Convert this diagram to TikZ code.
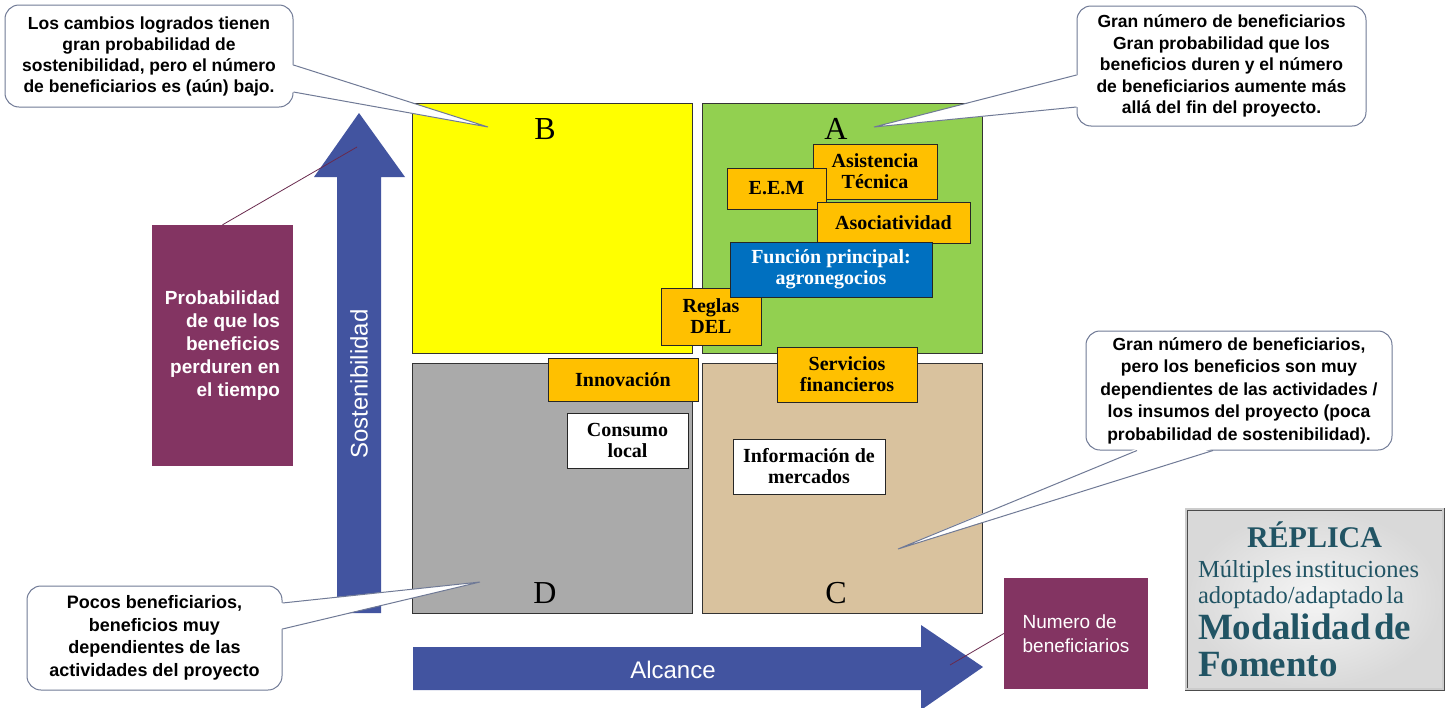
\documentclass[tikz,border=0pt]{standalone}
\usepackage{fontspec}
\setmainfont{Liberation Serif}
\setsansfont{Liberation Sans}
\usetikzlibrary{calc}
\definecolor{amarillo}{RGB}{255,255,0}
\definecolor{verde}{RGB}{146,208,80}
\definecolor{gris}{RGB}{170,170,170}
\definecolor{beige}{RGB}{217,194,158}
\definecolor{naranja}{RGB}{255,192,0}
\definecolor{azul}{RGB}{0,112,192}
\definecolor{flecha}{RGB}{66,84,160}
\definecolor{morado}{RGB}{131,52,98}
\definecolor{borde}{RGB}{112,122,150}
\definecolor{petroleo}{RGB}{33,84,100}
\begin{document}
\begin{tikzpicture}[x=1pt,y=-1pt,
	quad/.style={draw=black!80, line width=0.8pt, minimum width=280pt, minimum height=250pt, inner sep=0pt},
	letra/.style={inner sep=0pt, font=\fontsize{32}{32}\selectfont},
	caja/.style={draw=black!85, line width=0.8pt, fill=naranja, inner sep=0pt, align=center, font=\bfseries\fontsize{20}{21}\selectfont},
	blanca/.style={caja, fill=white},
	globo/.style={draw=borde, line width=1pt, fill=white, rounded corners=14pt, inner sep=0pt, align=center, font=\sffamily\bfseries\fontsize{17.5}{21}\selectfont},
	pico/.style={draw=borde, line width=1pt},
	morada/.style={fill=morado, text=white, inner sep=0pt},
	hilo/.style={draw=morado!80!black, line width=0.8pt}]
	\useasboundingbox (0,0) rectangle (1450,707);
	\clip (0,0) rectangle (1450,707);
	\fill[white] (0,0) rectangle (1450,707);

	% cuadrantes
	\node[quad, fill=amarillo] (B) at (552,228) {};
	\node[quad, fill=verde] (A) at (842,228) {};
	\node[quad, fill=gris] (D) at (552,488) {};
	\node[quad, fill=beige] (C) at (842,488) {};
	\node[letra] (lB) at (545,129) {B};
	\node[letra] (lA) at (836,129) {A};
	\node[letra] (lD) at (545,593) {D};
	\node[letra] (lC) at (836,593) {C};

	% flechas
	\fill[flecha] (337,613) -- (337,177) -- (314,177) -- (359,113) -- (405,177) -- (381,177) -- (381,613) -- cycle;
	\node[text=white, rotate=90, font=\sffamily\fontsize{24}{24}\selectfont] (sost) at (359,384) {Sostenibilidad};
	\fill[flecha] (413,647) -- (921,647) -- (921,625) -- (983,667) -- (921,710) -- (921,690) -- (413,690) -- cycle;
	\node[text=white, font=\sffamily\fontsize{24}{24}\selectfont] (alc) at (673,670) {Alcance};

	% cajas moradas
	\node[morada, minimum width=141pt, minimum height=241pt, align=right, font=\sffamily\bfseries\fontsize{19}{23}\selectfont] (P) at (222.5,345.5) {Probabilidad\\de que los\\beneficios\\perduren en\\el tiempo};
	\coordinate (sP) at (357,147);
	\draw[hilo] (P.north) -- (sP);
	\node[morada, minimum width=144pt, minimum height=111pt, align=left, font=\sffamily\fontsize{19}{24}\selectfont] (N) at (1076,633.5) {Numero de\\beneficiarios};
	\coordinate (sN) at (950,665);
	\draw[hilo] (sN) -- (N.west);

	% actividades
	\node[caja, minimum width=124pt, minimum height=55pt] (asis) at (875,171.5) {Asistencia\\Técnica};
	\node[caja, minimum width=99pt, minimum height=41pt] (eem) at (776.5,188.5) {E.E.M};
	\node[caja, minimum width=153pt, minimum height=41pt] (asoc) at (893.5,222.5) {Asociatividad};
	\node[caja, minimum width=100pt, minimum height=57pt] (regl) at (711,316.5) {Reglas\\DEL};
	\node[caja, fill=azul, text=white, minimum width=202pt, minimum height=55pt] (func) at (831,269.5) {Función principal:\\agronegocios};
	\node[caja, minimum width=150pt, minimum height=43pt] (inno) at (623,379.5) {Innovación};
	\node[caja, minimum width=140pt, minimum height=55pt] (serv) at (847,374.5) {Servicios\\financieros};
	\node[blanca, minimum width=121pt, minimum height=55pt] (cons) at (627.5,440.5) {Consumo\\local};
	\node[blanca, minimum width=152pt, minimum height=55pt] (info) at (809,466.5) {Información de\\mercados};

	% globos
	\node[globo, minimum width=288pt, minimum height=102pt] (gB) at (149,56) {Los cambios logrados tienen\\gran probabilidad de\\sostenibilidad, pero el número\\de beneficiarios es (aún) bajo.};
	\coordinate (pB) at (488,127);
	\fill[white] ($(gB.east)+(-2,9)$) -- (pB) -- ($(gB.east)+(-2,36)$) -- cycle;
	\draw[pico] ($(gB.east)+(0,9)$) -- (pB) -- ($(gB.east)+(0,36)$);

	\node[globo, font=\sffamily\bfseries\fontsize{17.5}{21.5}\selectfont, minimum width=289pt, minimum height=120pt] (gA) at (1221.5,66) {Gran número de beneficiarios\\Gran probabilidad que los\\beneficios duren y el número\\de beneficiarios aumente más\\allá del fin del proyecto.};
	\coordinate (pA) at (874,127);
	\fill[white] ($(gA.west)+(2,9)$) -- (pA) -- ($(gA.west)+(2,41)$) -- cycle;
	\draw[pico] ($(gA.west)+(0,9)$) -- (pA) -- ($(gA.west)+(0,41)$);

	\node[globo, font=\sffamily\bfseries\fontsize{17.5}{22.5}\selectfont, minimum width=306pt, minimum height=119pt] (gC) at (1239,390.5) {Gran número de beneficiarios,\\pero los beneficios son muy\\dependientes de las actividades /\\los insumos del proyecto (poca\\probabilidad de sostenibilidad).};
	\coordinate (pC) at (898,549);
	\fill[white] ($(gC.south)+(-102,-2)$) -- (pC) -- ($(gC.south)+(-26,-2)$) -- cycle;
	\draw[pico] ($(gC.south)+(-102,0)$) -- (pC) -- ($(gC.south)+(-26,0)$);

	\node[globo, font=\sffamily\bfseries\fontsize{18}{22.5}\selectfont, minimum width=255pt, minimum height=104pt] (gD) at (154.5,638) {Pocos beneficiarios,\\beneficios muy\\dependientes de las\\actividades del proyecto};
	\coordinate (pD) at (480,582);
	\fill[white] ($(gD.east)+(-2,-35)$) -- (pD) -- ($(gD.east)+(-2,-9)$) -- cycle;
	\draw[pico] ($(gD.east)+(0,-35)$) -- (pD) -- ($(gD.east)+(0,-9)$);

	% replica
	\node[draw=black!70, double=gray!40, double distance=1.2pt, line width=0.9pt, inner color=gray!8, outer color=gray!30, text width=233pt, inner xsep=12pt, inner ysep=0pt, minimum height=180pt, align=left, text=petroleo] (R) at (1314.5,599) {\fontsize{30}{30}\selectfont\bfseries\hfill RÉPLICA\hfill\null\\
		\fontsize{24.5}{30}\selectfont\mdseries Múltiples instituciones\\
		\fontsize{24.5}{26}\selectfont adoptado/adaptado la\\
		\fontsize{37}{36}\selectfont\bfseries Modalidad de\\
		\fontsize{37}{37}\selectfont Fomento\par};
\end{tikzpicture}
\end{document}
